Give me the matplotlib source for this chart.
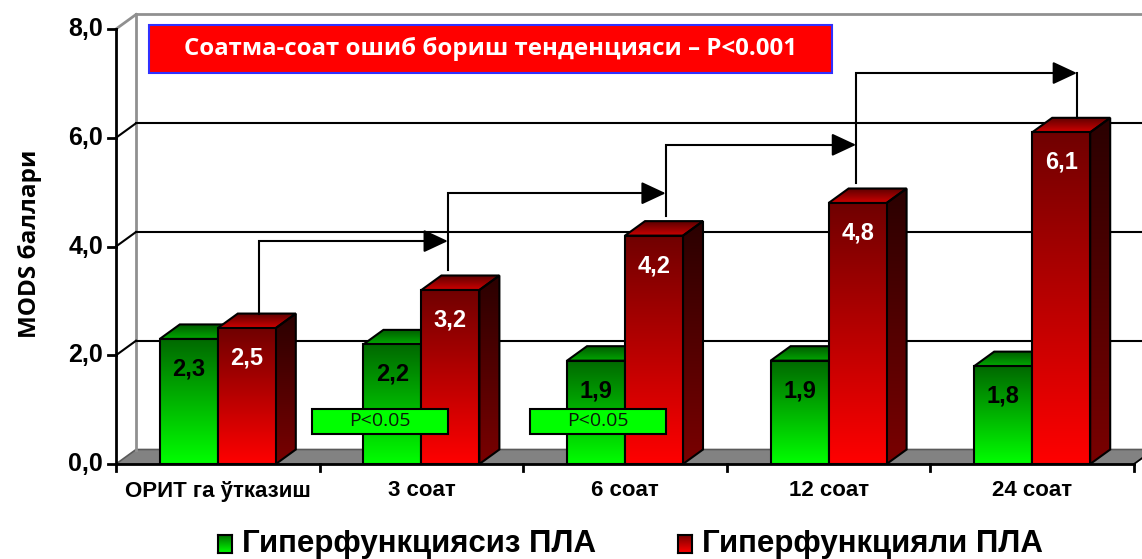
import numpy as np
import matplotlib
matplotlib.use('Agg')
import matplotlib.pyplot as plt
from matplotlib.patches import Polygon, Rectangle
from matplotlib.colors import to_rgb

# ---------------- data ----------------
categories = ['ОРИТ га ўтказиш', '3 соат', '6 соат', '12 соат', '24 соат']
green_values = [2.3, 2.2, 1.9, 1.9, 1.8]
red_values = [2.5, 3.2, 4.2, 4.8, 6.1]
green_labels = ['2,3', '2,2', '1,9', '1,9', '1,8']
red_labels = ['2,5', '3,2', '4,2', '4,8', '6,1']
yticks = [0, 2, 4, 6, 8]
ytick_labels = ['0,0', '2,0', '4,0', '6,0', '8,0']
series_names = ['Гиперфункциясиз ПЛА', 'Гиперфункцияли ПЛА']
title_text = 'Соатма-соат ошиб бориш тенденцияси – P<0.001'
ylabel_text = 'MODS баллари'
p_text = 'P<0.05'

# ---------------- layout ----------------
W, H = 1142, 559
fig = plt.figure(figsize=(W / 100, H / 100), dpi=100)
left_px, bot_px, top_px = 116, 464, 29
ax = fig.add_axes([left_px / W, (H - bot_px) / H, (W - left_px) / W, (bot_px - top_px) / H])
cat_px = 203.6
ypx = (bot_px - top_px) / 8.0
xmin = -0.5
xmax = -0.5 + (W - left_px) / cat_px
ax.set_xlim(xmin, xmax)
ax.set_ylim(0, 8)
ax.axis('off')

DX = 20 / cat_px
DY = 14.5 / ypx
n = len(categories)
x = np.arange(n)
w = 58 / cat_px

LW = 1.5


def grad_fill(poly_patch, y0, y1, c_bottom, c_top, z):
    cb = np.array(to_rgb(c_bottom))
    ct = np.array(to_rgb(c_top))
    t = np.linspace(0, 1, 256)[:, None, None]
    img = cb[None, None, :] * (1 - t) + ct[None, None, :] * t
    if isinstance(poly_patch, Rectangle):
        xs = np.array([poly_patch.get_x(), poly_patch.get_x() + poly_patch.get_width()])
    else:
        xs = np.asarray(poly_patch.get_xy())[:, 0]
    im = ax.imshow(img, extent=[xs.min(), xs.max(), y0, y1], origin='lower',
                   aspect='auto', interpolation='bilinear', zorder=z)
    im.set_clip_path(poly_patch)
    return im


# ---------------- walls / floor ----------------
floor = Polygon([(xmin, 0), (n - 0.5, 0), (n - 0.5 + DX, DY), (xmin + DX, DY)],
                closed=True, facecolor='#828282', edgecolor='#5a5a5a', lw=1.2, zorder=1)
ax.add_patch(floor)
ax.plot([xmin + DX, xmin + DX], [DY, 8 + DY], color='#909090', lw=2, zorder=1.5, clip_on=False)
ax.plot([xmin + DX, xmax], [8 + DY, 8 + DY], color='#909090', lw=2, zorder=1.5, clip_on=False)
ax.plot([xmin, xmin + DX], [8, 8 + DY], color='#909090', lw=2, zorder=1.5, clip_on=False)
for v in yticks[1:-1]:
    ax.plot([xmin + DX, xmax], [v + DY, v + DY], color='black', lw=LW, zorder=1.5, clip_on=False)
    ax.plot([xmin, xmin + DX], [v, v + DY], color='black', lw=LW, zorder=1.5, clip_on=False)

# front axes
ax.plot([xmin, xmin], [0, 8], color='black', lw=2, zorder=30, clip_on=False)
ax.plot([xmin, n - 0.5], [0, 0], color='black', lw=2, zorder=30, clip_on=False)
for v, lab in zip(yticks, ytick_labels):
    ax.plot([xmin - 8 / cat_px, xmin], [v, v], color='black', lw=2, zorder=30, clip_on=False)
    ax.text(xmin - 13 / cat_px, v, lab, ha='right', va='center', fontsize=18,
            fontweight='bold', family='Liberation Sans', clip_on=False)
for b in np.arange(n + 1) - 0.5:
    ax.plot([b, b], [0, -7 / ypx], color='black', lw=2, zorder=30, clip_on=False)
ax.plot([n - 0.5, n - 0.5 + DX], [0, DY], color='black', lw=1.2, zorder=2, clip_on=True)
for xi, cat in zip(x, categories):
    ax.text(xi, -27 / ypx, cat, ha='center', va='center', fontsize=16,
            fontweight='bold', family='Liberation Sans', clip_on=False)

# ---------------- bars ----------------
g_front = ('#00ff00', '#006800')
g_top = ('#00a800', '#005a00')
r_front = ('#ff0000', '#700000')
r_side = ('#7a0000', '#2a0000')
r_top = ('#d00000', '#5a0000')

gbars = ax.bar(x - w, green_values, w, align='edge', facecolor='none',
               edgecolor='black', lw=LW)
rbars = ax.bar(x, red_values, w, align='edge', facecolor='none',
               edgecolor='black', lw=LW)

z = 5
for gb, rb in zip(gbars, rbars):
    for bar, front, top, side in ((gb, g_front, g_top, None), (rb, r_front, r_top, r_side)):
        x0, bw, h = bar.get_x(), bar.get_width(), bar.get_height()
        if side is not None:
            sp = Polygon([(x0 + bw, 0), (x0 + bw + DX, DY), (x0 + bw + DX, h + DY), (x0 + bw, h)],
                         closed=True, facecolor='none', edgecolor='black', lw=LW, zorder=z + 1)
            ax.add_patch(sp)
            grad_fill(sp, 0, h + DY, side[0], side[1], z)
        tp = Polygon([(x0, h), (x0 + bw, h), (x0 + bw + DX, h + DY), (x0 + DX, h + DY)],
                     closed=True, facecolor='none', edgecolor='black', lw=LW, zorder=z + 1)
        ax.add_patch(tp)
        grad_fill(tp, h, h + DY, top[0], top[1], z)
        grad_fill(bar, 0, h, front[0], front[1], z + 2)
        bar.set_zorder(z + 3)
        z += 4

label_off = 0.55
for gb, rb, gl, rl in zip(gbars, rbars, green_labels, red_labels):
    ax.text(gb.get_x() + gb.get_width() / 2, gb.get_height() - label_off, gl,
            ha='center', va='center', fontsize=17, fontweight='bold',
            family='Liberation Sans', color='black', zorder=60)
    ax.text(rb.get_x() + rb.get_width() / 2, rb.get_height() - label_off, rl,
            ha='center', va='center', fontsize=17, fontweight='bold',
            family='Liberation Sans', color='white', zorder=60)

# ---------------- trend brackets ----------------
arrow_x = [0.20, 1.13, 2.20, 3.135, 4.22]
levels = [4.10, 4.98, 5.87, 7.19]
for i in range(n - 1):
    y_start = red_values[i] + DY + (0.0 if i == 0 else 0.1)
    ax.plot([arrow_x[i], arrow_x[i], arrow_x[i + 1] - 0.05], [y_start, levels[i], levels[i]],
            color='black', lw=LW, zorder=70, solid_joinstyle='miter', clip_on=False)
    ax.annotate('', xy=(arrow_x[i + 1], levels[i]), xytext=(arrow_x[i + 1] - 0.06, levels[i]),
                arrowprops=dict(arrowstyle='-|>,head_length=0.75,head_width=0.35',
                                color='black', lw=LW, shrinkA=0, shrinkB=0,
                                mutation_scale=20), zorder=71, annotation_clip=False)
ax.plot([arrow_x[-1], arrow_x[-1]], [levels[-1], red_values[-1] + DY], color='black',
        lw=LW, zorder=70, clip_on=False)

# ---------------- P<0.05 boxes ----------------
for x_right in arrow_x[1:3]:
    bx = Rectangle((x_right - 0.668, 0.553), 0.668, 0.46, facecolor='#00ff00',
                   edgecolor='black', lw=LW, zorder=80)
    ax.add_patch(bx)
    ax.text(x_right - 0.334, 0.553 + 0.23, p_text, ha='center', va='center',
            fontsize=14, family='Open Sans', color='#0a1a0a', zorder=81)

# ---------------- title box ----------------
tb = Rectangle((149 / W, (H - 73) / H), 683 / W, 48 / H, transform=fig.transFigure,
               facecolor='#ff0000', edgecolor='#3030ff', lw=1.5, zorder=90)
fig.patches.append(tb)
fig.text(490.5 / W, (H - 49) / H, title_text, ha='center', va='center', fontsize=17.3,
         fontweight='bold', family='Open Sans', color='white', zorder=91)

# ---------------- y label ----------------
fig.text(30 / W, (H - 244) / H, ylabel_text, rotation=90, ha='center', va='center',
         fontsize=17.5, fontweight='bold', family='Open Sans')

# ---------------- legend ----------------
leg_cols = [g_front, r_front]
sq_x = [218, 678]
for sx, cols, name in zip(sq_x, leg_cols, series_names):
    lax = fig.add_axes([sx / W, (H - 553) / H, 14 / W, 18 / H])
    cb = np.array(to_rgb(cols[0]))
    ct = np.array(to_rgb(cols[1]))
    t = np.linspace(0, 1, 64)[:, None, None]
    img = cb[None, None, :] * (1 - t) + ct[None, None, :] * t
    lax.imshow(img, origin='lower', aspect='auto', extent=[0, 1, 0, 1])
    lax.set_xticks([])
    lax.set_yticks([])
    for s in lax.spines.values():
        s.set_linewidth(1.5)
    fig.text((sx + 24) / W, (H - 544) / H, name, ha='left', va='center', fontsize=22.5,
             fontweight='bold', family='Liberation Sans')

fig.savefig('out.png', dpi=100)
